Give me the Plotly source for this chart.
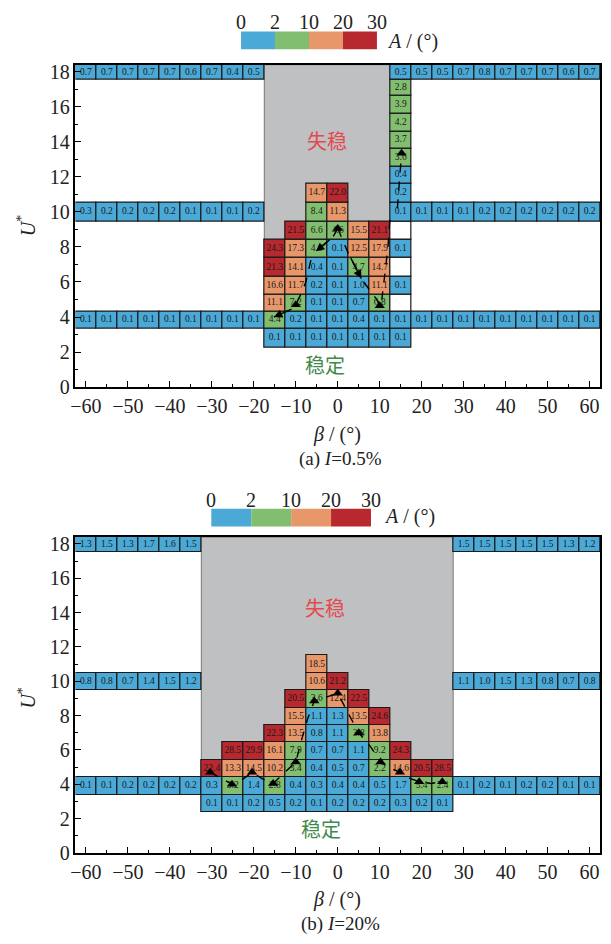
import plotly.graph_objects as go

# ===================== DATA =====================
# Panel (a): I = 0.5 %   -- each segment: row U*, first beta (deg), cell values (None = empty cell)
a_seg_U = [2.8, 3.85, 4.8, 5.75, 6.85, 7.9, 8.9, 10.0, 10.0, 10.0, 11.1, 11.1,
           12.1, 13.1, 14.1, 15.1, 16.15, 17.1, 18.0, 18.0]
a_seg_beta0 = [-15, -60, -15, -15, -15, -15, -10, -60, -5, 15, -5, 15,
               15, 15, 15, 15, 15, 15, -60, 15]
a_seg_vals = [
    [0.1, 0.1, 0.1, 0.1, 0.1, 0.1, 0.1],
    [0.1, 0.1, 0.1, 0.1, 0.1, 0.1, 0.1, 0.1, 0.1,
     4.4, 0.2, 0.1, 0.1, 0.4, 0.1,
     0.1, 0.1, 0.1, 0.1, 0.1, 0.1, 0.1, 0.1, 0.1, 0.1],
    [11.1, 7.2, 0.1, 0.1, 0.7, 6.8, None],
    [16.6, 11.7, 0.2, 0.1, 1.0, 11.1, 0.1],
    [21.3, 14.1, 0.4, 0.1, 4.7, 14.7, None],
    [24.3, 17.3, 4.6, 0.1, 12.5, 17.9, 0.1],
    [21.5, 6.6, 4.6, 15.5, 21.1, None],
    [0.3, 0.2, 0.2, 0.2, 0.2, 0.1, 0.1, 0.1, 0.2],
    [8.4, 11.3],
    [0.1, 0.1, 0.1, 0.1, 0.2, 0.2, 0.2, 0.2, 0.2, 0.2],
    [14.7, 22.0],
    [0.2],
    [0.4],
    [3.6],
    [3.7],
    [4.2],
    [3.9],
    [2.8],
    [0.7, 0.7, 0.7, 0.7, 0.7, 0.6, 0.7, 0.4, 0.5],
    [0.5, 0.5, 0.5, 0.7, 0.8, 0.7, 0.7, 0.7, 0.6, 0.7],
]
a_unstable_cols = (-15, 10)     # columns covered by the unstable zone
a_unstable_from_U = 8.9         # lowest row of the unstable zone

# Panel (b): I = 20 %
b_seg_U = [2.9, 3.9, 4.9, 5.95, 6.95, 7.95, 8.95, 10.0, 10.0, 10.0, 11.0, 18.0, 18.0]
b_seg_beta0 = [-30, -60, -30, -25, -15, -10, -10, -60, -5, 30, -5, -60, 30]
b_seg_vals = [
    [0.1, 0.1, 0.2, 0.5, 0.2, 0.1, 0.2, 0.2, 0.2, 0.3, 0.2, 0.1],
    [0.1, 0.1, 0.2, 0.2, 0.2, 0.2,
     0.3, 3.2, 1.4, 2.8, 0.4, 0.3, 0.4, 0.4, 0.5, 1.7, 5.4, 2.4,
     0.1, 0.2, 0.1, 0.2, 0.2, 0.1, 0.1],
    [22.4, 13.3, 14.5, 10.2, 3.4, 0.4, 0.5, 0.7, 2.2, 14.6, 20.5, 28.5],
    [28.5, 29.9, 16.1, 7.9, 0.7, 0.7, 1.1, 9.2, 24.3],
    [22.3, 13.5, 0.8, 1.1, 3.8, 13.8],
    [15.5, 1.1, 1.3, 13.5, 24.6],
    [20.5, 3.6, 12.4, 22.5],
    [0.8, 0.8, 0.7, 1.4, 1.5, 1.2],
    [10.6, 21.2],
    [1.1, 1.0, 1.5, 1.3, 0.8, 0.7, 0.8],
    [18.5],
    [1.3, 1.5, 1.3, 1.7, 1.6, 1.5],
    [1.5, 1.5, 1.5, 1.5, 1.5, 1.3, 1.2],
]
b_unstable_cols = (-30, 25)
b_unstable_from_U = 5.95

# Amplitude classes A / (deg)
A_bounds = [0, 2, 10, 20, 30]
A_colors = ["#4aa9d6", "#82be70", "#e8976a", "#b7282f"]

# Response trajectories (beta, U*, head symbol)
a_paths = [
    [(0, 9.05, None), (-1.2, 8.55, None), (-5.2, 7.75, "arrow")],
    [(-6.4, 7.25, None), (-7.6, 6.0, None), (-8.9, 5.25, None), (-10.0, 4.7, "triangle-up")],
    [(-11.0, 4.45, None), (-15.2, 4.0, "arrow")],
    [(0, 9.05, "triangle-up"), (2.4, 7.7, None), (5.6, 6.2, "arrow")],
    [(6.2, 6.0, None), (9.6, 4.9, None), (10.0, 4.65, "triangle-up")],
    [(12.4, 9.55, None), (12.0, 8.1, None), (11.4, 6.8, None), (10.9, 5.9, None), (10.5, 5.0, None)],
    [(14.2, 10.2, None), (14.6, 11.3, None), (14.9, 12.3, None), (15.2, 13.35, "triangle-up")],
]
b_paths = [
    [(-30.4, 4.7, "triangle-up"), (-27.6, 4.3, None), (-25.2, 4.0, "triangle-up"),
     (-22.6, 4.3, None), (-20.4, 4.7, "triangle-up"), (-17.8, 4.3, None),
     (-15.4, 4.05, "triangle-up"), (-12.6, 4.7, None), (-10.0, 5.3, "triangle-up"),
     (-8.6, 6.6, None), (-7.2, 7.8, None), (-5.6, 8.85, "triangle-up"),
     (-2.6, 9.1, None), (0.0, 9.3, "triangle-up"), (2.8, 8.0, None),
     (5.0, 7.0, "triangle-up"), (7.8, 6.2, None), (10.2, 5.3, "triangle-up"),
     (12.6, 4.95, None), (14.8, 4.7, "triangle-up"), (17.2, 4.35, None),
     (19.4, 4.15, "triangle-up"), (22.2, 4.05, None), (24.9, 4.15, "triangle-up")],
]

# ===================== GEOMETRY / STYLE =====================
W, H = 611, 944
CELL_W = 5.0
X_RANGE = [-62.5, 62.5]
Y_MAX = 18.4
SERIF = "Liberation Serif, Times New Roman, serif"
CJK = "Noto Sans CJK SC"
GRAY = "#bfc0c2"
INK = "#222222"


def px(xp):
    return xp / W


def py(yp):
    return 1 - yp / H


def row_edges(levels):
    lv = sorted(set(levels))
    out = {}
    for i, u in enumerate(lv):
        gb = u - lv[i - 1] if i > 0 else None
        ga = lv[i + 1] - u if i < len(lv) - 1 else None
        hb = gb / 2 if gb is not None and gb < 1.5 else None
        ha = ga / 2 if ga is not None and ga < 1.5 else None
        if hb is None:
            hb = ha if (gb is None and ha is not None) else 0.5
        if ha is None:
            ha = hb if (ga is None and gb is not None and gb < 1.5) else 0.5
        out[u] = (u - hb, u + ha)
    return out


def a_color(v):
    if v is None:
        return "white"
    for k in range(4):
        if v < A_bounds[k + 1]:
            return A_colors[k]
    return A_colors[-1]


def paper_text(x, y, text, size=20, **kw):
    d = dict(x=px(x), y=py(y), xref="paper", yref="paper", text=text,
             showarrow=False, xanchor="center", yanchor="middle",
             font=dict(family=SERIF, size=size, color=INK))
    d.update(kw)
    return d


fig = go.Figure()

panels = [
    dict(U=a_seg_U, b0=a_seg_beta0, vals=a_seg_vals, uc=a_unstable_cols,
         uf=a_unstable_from_U, paths=a_paths, xa="x", ya="y",
         dom=[py(389.3), py(61.7)],
         unst=(-2.5, 14.1), stab=(-3.0, 1.3)),
    dict(U=b_seg_U, b0=b_seg_beta0, vals=b_seg_vals, uc=b_unstable_cols,
         uf=b_unstable_from_U, paths=b_paths, xa="x2", ya="y2",
         dom=[py(862.7), py(541.7)],
         unst=(-3.0, 14.3), stab=(-4.0, 1.4)),
]

shapes = []
annotations = []

for p in panels:
    edges = row_edges(p["U"])
    xs, bases, hs, cols, tx, ty, tt = [], [], [], [], [], [], []
    for u, b0, vals in zip(p["U"], p["b0"], p["vals"]):
        lo, hi = edges[u]
        for j, v in enumerate(vals):
            b = b0 + CELL_W * j
            xs.append(b)
            bases.append(lo)
            hs.append(hi - lo)
            cols.append(a_color(v))
            if v is not None:
                tx.append(b)
                ty.append((lo + min(hi, Y_MAX)) / 2)
                tt.append(f"{v:.1f}")
    fig.add_trace(go.Bar(x=xs, y=hs, base=bases, width=CELL_W,
                         marker=dict(color=cols, line=dict(color="#1a1a1a", width=1.2)),
                         xaxis=p["xa"], yaxis=p["ya"], showlegend=False,
                         hoverinfo="skip"))
    fig.add_trace(go.Scatter(x=tx, y=ty, text=tt, mode="text",
                             textfont=dict(family=SERIF, size=9.5, color="#1a1a1a"),
                             xaxis=p["xa"], yaxis=p["ya"], showlegend=False,
                             hoverinfo="skip"))
    # trajectories
    for path in p["paths"]:
        fig.add_trace(go.Scatter(x=[q[0] for q in path], y=[q[1] for q in path], mode="lines",
                                 line=dict(color="black", width=1.4, dash="dash"),
                                 xaxis=p["xa"], yaxis=p["ya"], showlegend=False,
                                 hoverinfo="skip"))
        tri_x, tri_y = [], []
        for k, q in enumerate(path):
            if q[2] == "arrow":
                annotations.append(dict(x=q[0], y=q[1], ax=path[k - 1][0], ay=path[k - 1][1],
                                        xref=p["xa"], yref=p["ya"], axref=p["xa"], ayref=p["ya"],
                                        showarrow=True, arrowhead=2, arrowsize=1.2,
                                        arrowwidth=1.4, arrowcolor="black", text=" "))
            elif q[2] == "triangle-up":
                tri_x.append(q[0]); tri_y.append(q[1])
        if tri_x:
            fig.add_trace(go.Scatter(x=tri_x, y=tri_y, mode="markers",
                                     marker=dict(symbol="triangle-up", size=9, color="black"),
                                     xaxis=p["xa"], yaxis=p["ya"], showlegend=False,
                                     hoverinfo="skip"))
    # unstable zone
    lo_u = edges[p["uf"]][0]
    shapes.append(dict(type="rect", xref=p["xa"], yref=p["ya"],
                       x0=p["uc"][0] - CELL_W / 2, x1=p["uc"][1] + CELL_W / 2,
                       y0=lo_u, y1=Y_MAX, fillcolor=GRAY,
                       line=dict(color="#777777", width=1), layer="below"))
    annotations.append(dict(x=p["unst"][0], y=p["unst"][1], xref=p["xa"], yref=p["ya"],
                            text="失稳", showarrow=False,
                            font=dict(family=CJK, size=20, color="#e5484d")))
    annotations.append(dict(x=p["stab"][0], y=p["stab"][1], xref=p["xa"], yref=p["ya"],
                            text="稳定", showarrow=False,
                            font=dict(family=CJK, size=20, color="#3f8a4b")))

# ---- axes ----
axis_common = dict(showline=True, linecolor="black", linewidth=1.5, mirror=True,
                   ticks="inside", ticklen=6, tickwidth=1.3, tickcolor="black",
                   showgrid=False, zeroline=False,
                   tickfont=dict(family=SERIF, size=20, color=INK))
xdom = [px(71), px(600)]
xminor = dict(ticks="inside", ticklen=3, dtick=5, tick0=0, tickcolor="black")
yminor = dict(ticks="inside", ticklen=3, dtick=1, tick0=0, tickcolor="black")
fig.update_layout(
    xaxis=dict(domain=xdom, anchor="y", range=X_RANGE, dtick=10, tick0=0,
               minor=xminor, **axis_common),
    yaxis=dict(domain=panels[0]["dom"], anchor="x", range=[0, Y_MAX], dtick=2, tick0=0,
               minor=yminor, **axis_common),
    xaxis2=dict(domain=xdom, anchor="y2", range=X_RANGE, dtick=10, tick0=0,
                minor=xminor, **axis_common),
    yaxis2=dict(domain=panels[1]["dom"], anchor="x2", range=[0, Y_MAX], dtick=2, tick0=0,
                minor=yminor, **axis_common),
)

# ---- titles, captions ----
for yx, yu, ycap, cap in [(437, 225, 462, "(a) <i>I</i>=0.5%"), (910, 705, 935, "(b) <i>I</i>=20%")]:
    annotations.append(paper_text(335, yx, "<i>β</i> / (°)", 20))
    annotations.append(paper_text(22, yu, "<i>U</i><sup>*</sup>", 20, textangle=-90))
    annotations.append(paper_text(338, ycap, cap, 19))

# ---- amplitude key (legend bars) ----
for (x0, x1, y0, y1, ylab, xA, yA) in [(238, 375, 28, 46, 18, 383, 38),
                                        (208, 369, 513, 531, 504, 380, 521)]:
    seg = (x1 - x0) / 4
    for k in range(4):
        shapes.append(dict(type="rect", xref="paper", yref="paper",
                           x0=px(x0 + k * seg), x1=px(x0 + (k + 1) * seg),
                           y0=py(y1), y1=py(y0), fillcolor=A_colors[k],
                           line=dict(width=0)))
    for k, bnd in enumerate(A_bounds):
        annotations.append(paper_text(x0 + k * seg, ylab, str(bnd), 20))
    annotations.append(paper_text(xA, yA, "<i>A</i> / (°)", 20, xanchor="left"))

fig.update_layout(width=W, height=H, margin=dict(l=0, r=0, t=0, b=0),
                  paper_bgcolor="white", plot_bgcolor="white",
                  barmode="overlay", bargap=0, shapes=shapes, annotations=annotations,
                  showlegend=False)

fig.write_html("out.html")
